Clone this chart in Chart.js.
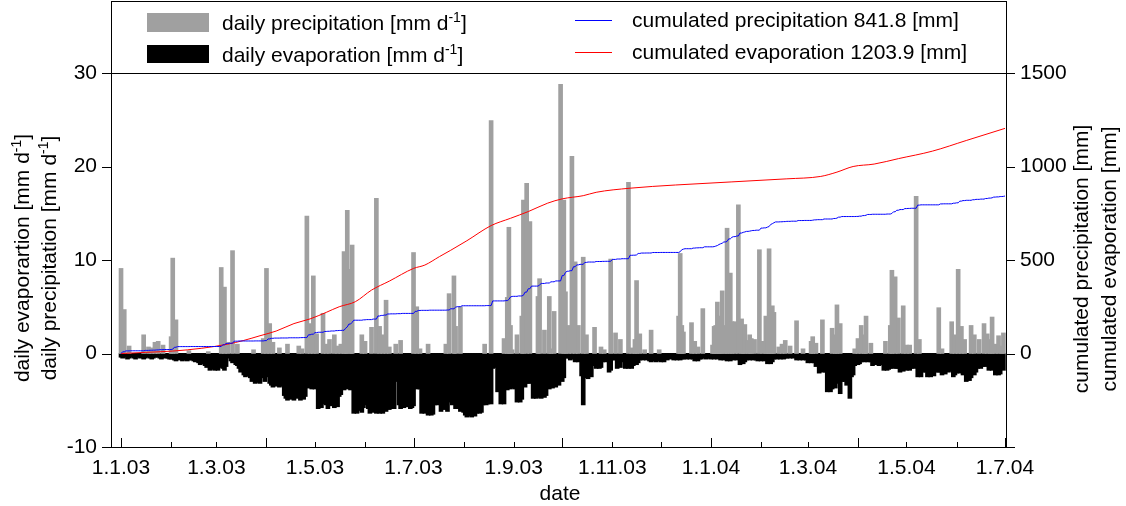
<!DOCTYPE html>
<html>
<head>
<meta charset="utf-8">
<script src="https://cdn.jsdelivr.net/npm/chart.js@4.4.1/dist/chart.umd.min.js"></script>
<style>
  html, body { margin: 0; padding: 0; background: #fff; }
  #wrap { width: 1126px; height: 506px; }
</style>
</head>
<body>
<div id="wrap"><canvas id="waterChart" width="1126" height="506"></canvas></div>
<script>
// x axis = days since 1.1.03
const tickDays = [0, 59, 120, 181, 243, 304, 365, 425, 486, 547];
const tickLabels = ['1.1.03', '1.3.03', '1.5.03', '1.7.03', '1.9.03', '1.11.03', '1.1.04', '1.3.04', '1.5.04', '1.7.04'];
const monthStarts = [0, 31, 59, 90, 120, 151, 181, 212, 243, 273, 304, 334, 365, 396, 425, 456, 486, 517, 547];
const quarterStarts = [0, 90, 181, 273, 365, 456, 547];
const leftTicks = [-10, 0, 10, 20, 30];
const rightTicks = [0, 500, 1000, 1500];

// daily precipitation [mm/d], only the rainy days
const rainDays = [
  0, 2, 5, 14, 17, 19, 21, 23, 26, 31, 32, 34, 42, 54, 62, 64, 66, 69, 72, 82, 88, 90, 92, 94, 98,
  103, 110, 112, 115, 117, 119, 121, 125, 127, 129, 132, 134, 136, 138, 139, 140, 142, 143, 149,
  151, 155, 158, 160, 162, 164, 166, 170, 173, 181, 183, 185, 190, 201, 203, 206, 207, 210, 225,
  229, 237, 239, 240, 241, 242, 245, 248, 249, 251, 253, 258, 259, 262, 265, 266, 268, 272,
  274, 275, 277, 279, 281, 283, 286, 288, 293, 297, 299, 303, 306, 309, 314, 316, 318, 319, 321,
  324, 328, 333, 345, 346, 347, 348, 353, 355, 357, 360, 366, 367, 368, 369, 370, 371, 372, 374,
  375, 377, 378, 380, 382, 384, 385, 386, 388, 389, 390, 392, 395, 397, 399, 400, 401, 402, 403,
  404, 407, 409, 411, 414, 418, 422, 427, 428, 430, 434, 440, 442, 443, 445, 454, 456, 458, 460,
  461, 464, 473, 476, 477, 479, 481, 484, 486, 488, 492, 494, 506, 508, 514, 516, 518, 520, 522,
  526, 528, 531, 534, 536, 538, 539, 541, 543, 545, 546
];
const rainValues = [
  9.1, 4.7, 0.8, 2.0, 0.7, 0.6, 1.2, 1.3, 0.9, 1.8, 10.2, 3.6, 0.3, 0.2, 9.2, 7.1, 1.2, 11.0, 1.0, 0.4, 1.6, 9.1, 3.2, 1.2, 0.6,
  1.0, 0.8, 0.5, 14.7, 3.2, 8.3, 2.1, 4.3, 1.0, 1.5, 2.0, 0.8, 1.0, 10.9, 7.0, 15.3, 9.0, 11.6, 2.0,
  1.3, 2.8, 16.6, 2.9, 2.0, 5.7, 0.7, 1.0, 1.4, 10.8, 5.0, 0.5, 1.0, 1.0, 6.4, 8.3, 2.9, 5.0, 1.0,
  24.9, 1.6, 6.0, 13.5, 3.0, 0.4, 2.0, 4.0, 16.4, 18.2, 14.1, 6.1, 8.0, 2.5, 6.1, 0.5, 4.5, 28.8,
  16.4, 6.6, 3.0, 21.1, 9.8, 3.0, 10.3, 2.0, 2.8, 0.7, 0.4, 10.1, 2.2, 1.5, 18.3, 0.6, 1.5, 7.8, 2.1,
  0.4, 2.5, 0.4, 4.0, 10.7, 3.0, 2.3, 3.3, 1.3, 0.7, 4.8, 0.9, 2.9, 3.0, 5.5, 4.0, 3.0, 6.7, 3.0,
  13.4, 8.6, 3.4, 3.4, 15.9, 3.7, 2.0, 3.1, 1.4, 2.0, 1.6, 1.5, 11.1, 1.3, 4.0, 3.0, 11.2, 4.0, 5.1,
  4.4, 0.7, 1.0, 1.4, 0.8, 3.5, 0.5, 1.3, 1.8, 1.1, 3.6, 2.7, 2.0, 5.2, 3.2, 0.5, 1.6, 3.0, 2.0,
  4.0, 1.1, 1.3, 3.0, 8.9, 8.2, 3.8, 5.1, 0.9, 0.9, 16.8, 1.5, 4.9, 0.5, 3.4, 2.0, 9.0, 2.9, 1.5,
  3.0, 2.0, 1.5, 3.2, 2.1, 1.5, 3.9, 1.0, 1.9, 0.8, 2.2
];

// daily evaporation [mm/d], one value per day from 1.1.03 to 30.6.04 (drawn downwards)
const evaporation = [
  // Jan 03
  0.4,0.5,0.3,0.4,0.6,0.5,0.3,0.4,0.5,0.6,0.4,0.3,0.5,0.4,0.6,0.5,0.4,0.3,0.5,0.6,0.5,0.4,0.3,0.4,0.5,0.6,0.4,0.5,0.3,0.5,0.6,
  // Feb 03
  0.6,0.5,0.7,0.8,0.6,0.7,0.5,0.8,0.7,0.6,0.8,0.7,0.5,0.7,0.8,0.9,0.7,1.0,1.2,0.9,1.1,1.3,1.5,1.4,1.8,1.6,1.7,1.8,
  // Mar 03
  1.7,1.8,1.5,1.2,1.6,1.8,1.4,0.5,0.4,0.8,1.0,0.6,1.2,1.3,1.6,2.0,1.8,2.3,2.5,2.2,2.4,2.6,3.0,2.9,3.2,3.1,2.8,3.2,2.2,2.6,3.0,
  // Apr 03
  2.1,2.5,3.2,3.4,3.6,3.3,3.5,3.2,3.6,3.4,3.5,4.5,4.8,5.0,4.6,4.9,4.7,5.0,4.6,4.8,4.5,5.0,4.7,4.9,4.6,2.3,3.7,3.5,3.8,3.6,
  // May 03
  3.8,3.6,5.9,5.6,5.8,5.4,5.0,5.5,5.9,5.2,5.6,5.0,5.8,5.3,5.7,4.6,4.4,3.6,3.9,3.7,3.8,3.6,3.9,3.7,6.4,6.2,6.4,6.1,5.4,6.3,5.8,
  // Jun 03
  5.5,5.3,5.9,6.4,6.0,6.3,5.9,6.4,6.2,6.4,6.3,6.4,4.8,6.2,5.6,6.0,5.9,5.7,5.9,2.7,3.0,5.5,5.9,5.6,5.8,5.7,5.5,5.7,5.9,5.8,
  // Jul 03
  5.6,3.7,3.8,3.6,3.8,6.4,6.2,6.4,6.3,6.6,6.4,6.6,6.5,5.5,5.3,5.5,5.0,6.2,5.6,6.0,5.4,6.2,5.2,4.3,5.5,4.8,5.9,5.7,5.9,6.2,6.0,
  // Aug 03
  6.3,6.6,6.8,6.7,6.5,6.8,6.6,6.7,6.4,6.2,6.4,6.3,5.5,5.3,5.5,5.4,5.2,5.4,1.6,1.2,1.5,4.1,3.9,5.4,5.2,5.4,3.4,3.9,3.6,3.8,3.5,
  // Sep 03
  3.7,3.8,5.2,5.0,5.2,4.9,2.7,3.6,3.2,3.2,3.0,3.2,4.8,4.6,4.8,4.7,4.5,4.8,4.6,4.7,4.5,3.7,3.8,3.6,3.7,2.3,3.6,3.0,3.4,2.6,
  // Oct 03
  3.0,2.6,0.5,0.4,0.5,0.7,0.6,0.5,0.9,0.8,0.9,0.7,2.4,5.5,2.6,2.0,2.7,2.3,2.5,1.3,1.1,1.6,1.4,1.6,1.5,0.9,0.8,0.9,0.7,2.0,1.8,
  // Nov 03
  0.7,0.6,0.7,1.6,1.4,1.5,0.9,0.8,1.6,1.5,1.6,1.4,1.6,1.3,1.1,1.2,1.0,0.7,0.6,0.7,0.5,0.7,0.6,0.8,0.9,0.7,0.8,0.9,0.7,0.8,
  // Dec 03
  0.9,0.8,0.9,0.4,0.7,0.5,0.6,0.4,0.7,0.6,0.7,0.5,0.7,0.6,0.6,0.5,0.6,0.4,0.6,0.5,0.6,0.8,0.7,0.8,0.6,0.6,0.5,0.4,0.6,0.5,0.5,
  // Jan 04
  0.6,0.5,0.6,0.4,0.6,0.5,0.7,0.6,0.7,0.5,0.8,0.7,0.8,0.6,0.7,0.6,0.7,0.5,1.2,1.0,1.1,0.9,0.7,0.6,0.7,0.5,0.7,0.6,0.7,0.8,0.7,
  // Feb 04
  0.8,0.7,0.8,0.6,1.1,1.0,1.1,0.9,0.6,0.5,0.6,0.4,0.6,0.5,0.6,0.5,0.5,0.4,0.5,0.3,0.5,0.4,0.7,0.6,0.7,0.5,0.7,0.6,0.7,
  // Mar 04
  1.0,0.9,1.0,0.8,1.0,1.4,1.3,2.1,1.9,2.0,1.8,2.0,4.1,3.8,4.1,3.8,3.5,3.7,3.2,3.0,4.3,3.0,2.8,3.0,3.4,3.2,4.8,2.5,2.3,1.3,1.1,
  // Apr 04
  1.2,1.1,0.9,0.8,0.9,0.7,0.9,0.8,0.9,1.3,1.1,1.2,1.0,1.3,1.1,1.2,1.8,1.6,1.8,1.7,1.6,1.5,1.6,1.4,1.6,1.6,2.0,1.8,1.9,1.7,
  // May 04
  1.8,1.6,1.8,1.6,1.5,1.6,1.4,2.5,2.3,2.5,2.0,1.8,2.0,2.5,2.3,2.5,2.2,2.4,2.0,1.8,2.0,2.0,2.3,2.1,2.2,1.6,2.0,1.8,1.9,2.5,2.3,
  // Jun 04
  2.1,1.9,2.1,2.0,2.3,2.1,3.0,2.7,2.9,2.6,1.6,2.3,2.0,1.6,1.5,1.6,1.4,1.3,1.4,1.2,1.8,1.6,1.8,1.7,2.3,2.1,2.3,2.2,1.6,1.8
];

// cumulated evaporation [mm]
const cumEvapDays = [0, 15, 32, 50, 66, 76, 86, 96, 107, 117, 127, 135, 145, 155, 166, 181, 188, 197, 204, 214, 229, 241, 252, 264, 273, 286, 294, 315, 343, 412, 433, 443, 453, 466, 481, 502, 523, 547];
const cumEvapValues = [0, 6, 13, 28, 50, 70, 95, 120, 160, 185, 220, 250, 277, 339, 387, 455, 473, 518, 552, 603, 684, 723, 759, 804, 827, 844, 862, 884, 901, 934, 947, 970, 1000, 1013, 1042, 1082, 1139, 1203.9];

const FONT = '"Liberation Sans", Arial, Helvetica, sans-serif';
const FS = 21;
const SUP = 14;

const rainPoints = rainDays.map((d, i) => ({ x: d, y: rainValues[i] }));
const evapPoints = evaporation.map((v, d) => ({ x: d, y: -v }));

// running sum of the daily precipitation, value at the end of each day
const cumRain = [{ x: 0, y: 0 }];
let total = 0;
for (let d = 0; d < 547; d++) {
  const i = rainDays.indexOf(d);
  if (i >= 0) total += rainValues[i];
  cumRain.push({ x: d + 1, y: total });
}
const cumEvap = cumEvapDays.map((d, i) => ({ x: d, y: cumEvapValues[i] }));

function drawSupText(ctx, parts, x, y, align) {
  let width = 0;
  parts.forEach(p => {
    ctx.font = (p.sup ? SUP : FS) + 'px ' + FONT;
    p.w = ctx.measureText(p.t).width;
    width += p.w;
  });
  let cx = align === 'center' ? x - width / 2 : x;
  ctx.textAlign = 'left';
  ctx.textBaseline = 'alphabetic';
  parts.forEach(p => {
    ctx.font = (p.sup ? SUP : FS) + 'px ' + FONT;
    ctx.fillText(p.t, cx, p.sup ? y - 8 : y);
    cx += p.w;
  });
}

function unitParts(label) {
  return [{ t: label + ' [mm d' }, { t: '-1', sup: true }, { t: ']' }];
}

function drawRotated(ctx, parts, x, y) {
  ctx.save();
  ctx.translate(x, y);
  ctx.rotate(-Math.PI / 2);
  drawSupText(ctx, parts, 0, 7, 'center');
  ctx.restore();
}

const framePlugin = {
  id: 'frame',
  afterDraw(chart) {
    const { ctx, chartArea: a, scales } = chart;
    ctx.save();
    ctx.strokeStyle = '#000';
    ctx.lineWidth = 1;
    // legend box and plot frame
    ctx.strokeRect(a.left + 0.5, 1.5, a.right - a.left, a.top - 1);
    ctx.strokeRect(a.left + 0.5, a.top + 0.5, a.right - a.left, a.bottom - a.top);

    ctx.beginPath();
    leftTicks.forEach(v => {
      const y = Math.round(scales.y.getPixelForValue(v)) + 0.5;
      ctx.moveTo(a.left - 9, y); ctx.lineTo(a.left, y);
    });
    [-500].concat(rightTicks).forEach(v => {
      const y = Math.round(scales.yCum.getPixelForValue(v)) + 0.5;
      ctx.moveTo(a.right, y); ctx.lineTo(a.right + 9, y);
    });
    monthStarts.forEach(d => {
      const x = Math.round(scales.x.getPixelForValue(d)) + 0.5;
      const len = quarterStarts.includes(d) ? 9 : 5;
      ctx.moveTo(x, a.bottom); ctx.lineTo(x, a.bottom - len);
    });
    ctx.stroke();

    ctx.fillStyle = '#000';
    // axis titles
    drawRotated(ctx, unitParts('daily evaporartion'), 22, 258);
    drawRotated(ctx, unitParts('daily precipitation'), 49, 258);
    drawRotated(ctx, [{ t: 'cumulated precipitation [mm]' }], 1081, 259);
    drawRotated(ctx, [{ t: 'cumulated evaporation [mm]' }], 1109, 259);
    drawSupText(ctx, [{ t: 'date' }], 560, 500, 'center');

    // legend
    ctx.fillStyle = '#a0a0a0';
    ctx.fillRect(147, 13, 62, 19);
    ctx.fillStyle = '#000';
    ctx.fillRect(147, 45, 62, 18);
    drawSupText(ctx, unitParts('daily precipitation'), 222, 30, 'left');
    drawSupText(ctx, unitParts('daily evaporation'), 222, 62, 'left');
    ctx.lineWidth = 1;
    ctx.strokeStyle = '#0000ff';
    ctx.beginPath(); ctx.moveTo(575, 20.5); ctx.lineTo(612, 20.5); ctx.stroke();
    ctx.strokeStyle = '#ff0000';
    ctx.beginPath(); ctx.moveTo(575, 52.5); ctx.lineTo(612, 52.5); ctx.stroke();
    drawSupText(ctx, [{ t: 'cumulated precipitation 841.8 [mm]' }], 632, 27, 'left');
    drawSupText(ctx, [{ t: 'cumulated evaporation 1203.9 [mm]' }], 632, 59, 'left');
    ctx.restore();
  }
};

const tickFont = { family: FONT, size: FS };

new Chart(document.getElementById('waterChart'), {
  type: 'bar',
  data: {
    datasets: [
      { type: 'line', label: 'cumulated precipitation', data: cumRain, yAxisID: 'yCum',
        borderColor: '#0000ff', borderWidth: 1, pointRadius: 0, tension: 0, order: 0 },
      { type: 'line', label: 'cumulated evaporation', data: cumEvap, yAxisID: 'yCum',
        borderColor: '#ff0000', borderWidth: 1, pointRadius: 0, cubicInterpolationMode: 'monotone', order: 0 },
      { type: 'bar', label: 'daily precipitation', data: rainPoints, yAxisID: 'y',
        backgroundColor: '#a0a0a0', barThickness: 4, grouped: false, order: 1 },
      { type: 'bar', label: 'daily evaporation', data: evapPoints, yAxisID: 'y',
        backgroundColor: '#000000', barThickness: 4, grouped: false, order: 1 }
    ]
  },
  options: {
    responsive: false,
    animation: false,
    devicePixelRatio: 1,
    layout: { padding: { top: 73, left: 0, right: 0, bottom: 0 } },
    plugins: { legend: { display: false }, tooltip: { enabled: false } },
    scales: {
      x: {
        type: 'linear', min: -6.2, max: 547.6, offset: false,
        grid: { display: false, drawTicks: false }, border: { display: false },
        afterBuildTicks: s => { s.ticks = tickDays.map(v => ({ value: v })); },
        ticks: { autoSkip: false, maxRotation: 0, padding: 9, color: '#000', font: tickFont,
          callback: v => tickLabels[tickDays.indexOf(v)] },
        afterFit: s => { s.height = 59; }
      },
      y: {
        position: 'left', min: -10, max: 30,
        grid: { display: false, drawTicks: false }, border: { display: false },
        afterBuildTicks: s => { s.ticks = leftTicks.map(v => ({ value: v })); },
        ticks: { padding: 14, color: '#000', font: tickFont, callback: v => String(v) },
        afterFit: s => { s.width = 111; }
      },
      yCum: {
        position: 'right', min: -500, max: 1500,
        grid: { display: false, drawTicks: false }, border: { display: false },
        afterBuildTicks: s => { s.ticks = rightTicks.map(v => ({ value: v })); },
        ticks: { padding: 14, color: '#000', font: tickFont, callback: v => String(v) },
        afterFit: s => { s.width = 120; }
      }
    }
  },
  plugins: [framePlugin]
});
</script>
</body>
</html>
